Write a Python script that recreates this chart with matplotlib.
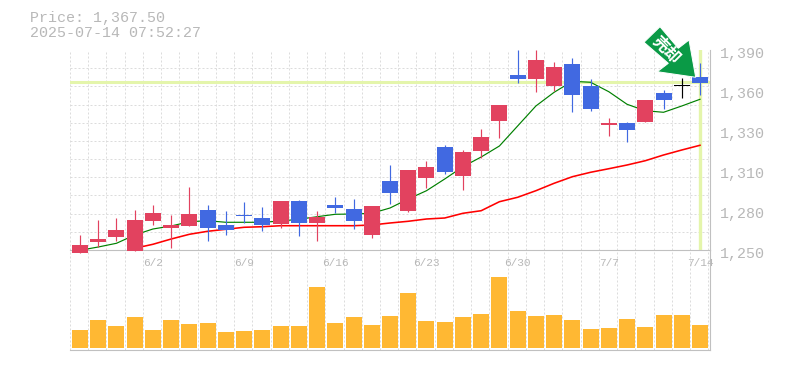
import matplotlib
matplotlib.use("Agg")
import matplotlib.pyplot as plt
import numpy as np
from matplotlib.patches import Polygon
from matplotlib.transforms import ScaledTranslation

plt.rcParams['lines.scale_dashes'] = False

header_price = "Price: 1,367.50"
header_time = "2025-07-14 07:52:27"
last_price = 1367.5
signal_label = "売却"

date_labels = ["6/2", "6/9", "6/16", "6/23", "6/30", "7/7", "7/14"]
date_index = [4, 9, 14, 19, 24, 29, 34]
price_ticks = [1250, 1278, 1306, 1334, 1362, 1390]
price_tick_labels = ["1,250", "1,280", "1,310", "1,330", "1,360", "1,390"]

body_top = [1253.5, 1257.7, 1264.0, 1271.0, 1275.9, 1267.5, 1275.2, 1278.0, 1267.5, 1274.5,
            1272.4, 1284.3, 1284.3, 1273.1, 1281.5, 1278.7, 1280.8, 1298.3, 1306.0, 1308.1,
            1322.1, 1318.6, 1329.1, 1351.5, 1372.5, 1383.0, 1378.1, 1380.2, 1364.8, 1338.9,
            1338.9, 1355.0, 1359.9, 1365.5, 1371.1]
body_bottom = [1248.1, 1255.6, 1259.1, 1249.5, 1270.3, 1265.4, 1266.8, 1265.4, 1264.0, 1273.8,
               1267.5, 1268.2, 1268.9, 1268.9, 1279.4, 1270.3, 1260.5, 1289.9, 1277.3, 1300.4,
               1304.6, 1301.8, 1319.3, 1340.3, 1369.7, 1369.7, 1364.8, 1358.5, 1348.7, 1337.5,
               1334.0, 1339.6, 1355.0, 1364.8, 1366.9]
high = [1260.5, 1271.0, 1272.4, 1278.0, 1281.5, 1274.5, 1294.1, 1281.5, 1277.3, 1283.6,
        1280.1, 1284.3, 1285.0, 1277.3, 1287.1, 1285.7, 1280.8, 1309.5, 1306.0, 1312.3,
        1323.5, 1320.0, 1334.7, 1351.5, 1390.0, 1390.0, 1381.6, 1384.4, 1369.7, 1342.4,
        1339.6, 1355.0, 1362.0, 1370.4, 1380.9]
low = [1248.1, 1251.9, 1256.5, 1249.5, 1267.3, 1251.4, 1266.8, 1256.5, 1260.5, 1268.9,
       1263.3, 1265.4, 1259.8, 1256.3, 1275.9, 1264.7, 1258.4, 1282.2, 1276.6, 1293.4,
       1303.2, 1292.0, 1314.4, 1328.4, 1366.9, 1360.6, 1361.3, 1346.6, 1347.3, 1329.8,
       1325.6, 1339.6, 1348.7, 1356.4, 1358.5]
direction = ["u", "u", "u", "u", "u", "u", "u", "d", "d", "d",
             "d", "u", "d", "u", "d", "d", "u", "d", "u", "u",
             "d", "u", "u", "u", "d", "u", "u", "d", "d", "u",
             "d", "u", "d", "n", "d"]

ma_short = [1249.8, 1252.1, 1254.7, 1260.5, 1264.7, 1266.8, 1269.8, 1270.5, 1269.4, 1269.4,
            1269.4, 1270.3, 1271.5, 1273.3, 1275.0, 1275.2, 1275.7, 1279.4, 1285.7, 1291.5,
            1299.7, 1308.3, 1315.1, 1322.8, 1336.8, 1350.8, 1360.4, 1368.1, 1367.4, 1360.8,
            1352.0, 1347.5, 1346.4, 1350.8, 1355.5]
ma_long = [1251.2, 1254.0, 1257.7, 1261.0, 1263.1, 1264.5, 1265.9, 1266.3, 1267.0, 1267.0,
           1267.0, 1267.0, 1267.0, 1267.5, 1268.9, 1270.1, 1271.7, 1272.4, 1275.7, 1277.5,
           1283.8, 1286.9, 1291.5, 1296.7, 1301.3, 1304.4, 1306.9, 1309.5, 1312.5, 1316.5,
           1320.0, 1323.3]
ma_long_start = 3

volume = [18, 28, 22, 31, 18, 28, 24, 25, 16, 17, 18, 22, 22, 61, 25, 31, 23, 32,
          55, 27, 26, 31, 34, 71, 37, 32, 33, 28, 19, 20, 29, 21, 33, 33, 23]

UP, DOWN, FLAT = "#e2425f", "#4169e1", "#000000"
COLORS = {"u": UP, "d": DOWN, "n": FLAT}
GREY = "#b8b8b8"
GRID = "#dcdcdc"
PALE = "#e4f5ab"
FONT = "Liberation Mono"
W, H = 785, 370
STEP = 18.235  # pixels per session

fig = plt.figure(figsize=(W / 100, H / 100), dpi=100, facecolor="white")
vax = fig.add_axes([70 / W, (H - 350) / H, 640 / W, 100 / H], zorder=1)
ax = fig.add_axes([70 / W, (H - 250) / H, 640 / W, 200 / H], zorder=2)
ax.patch.set_alpha(0)

n = len(volume)
x = np.arange(n)
XL = (-10 / STEP, -10 / STEP + 640 / STEP)
edges = XL[0] + np.arange(n + 1)
dash = (0, (1.44, 1.44))

for a in (ax, vax):
    a.set_xlim(*XL)
    a.set_xticks(edges, minor=True)
    a.grid(True, which="minor", axis="x", color=GRID, lw=0.72, ls=dash)
    a.set_axisbelow(True)
    for s in ("left", "top"):
        a.spines[s].set_visible(False)
    for s in ("right", "bottom"):
        a.spines[s].set_color("#c0c0c0")
        a.spines[s].set_linewidth(0.8)
    a.tick_params(which="both", length=0)

ax.set_ylim(1250, 1390)
ax.set_yticks(np.linspace(1250, 1390, 12), minor=True)
ax.grid(True, which="minor", axis="y", color=GRID, lw=0.72, ls=dash)

# price and last-session guides
ax.axhline(last_price, color=PALE, lw=2.2, zorder=1.5)
ax.axvline(x[-1], color=PALE, lw=2.4, zorder=1.5)

# moving averages
ax.plot(x, ma_short, color="#008000", lw=0.85, zorder=2)
ax.plot(x[ma_long_start:], ma_long, color="#ff0000", lw=1.15, zorder=2)

# candles
for i in range(n):
    c = COLORS[direction[i]]
    ax.vlines(x[i], low[i], high[i], color=c, lw=0.85, zorder=3, clip_on=False)
    ax.bar(x[i], body_top[i] - body_bottom[i], bottom=body_bottom[i], width=16 / STEP,
           color=c, linewidth=0, zorder=3.1, clip_on=False)

# volume
vax.bar(x, volume, width=16 / STEP, color="#ffb833", linewidth=0, zorder=3)
vax.set_ylim(-2, 98)
vax.set_yticks([])
vax.set_xticks([])

# y labels
ax.yaxis.tick_right()
ax.set_yticks(price_ticks)
ax.set_yticklabels(price_tick_labels, family=FONT, fontsize=10.8, color=GREY)
ax.tick_params(axis="y", which="major", pad=7)
shift = ScaledTranslation(0, -0.022, fig.dpi_scale_trans)
for lab in ax.get_yticklabels():
    lab.set_transform(lab.get_transform() + shift)

# date labels
ax.set_xticks(date_index)
ax.set_xticklabels(date_labels, family=FONT, fontsize=8, color=GREY)
ax.tick_params(axis="x", which="major", pad=5.5)

fig.text(30 / W, 1 - 18 / H, header_price, family=FONT, fontsize=10.8, color=GREY, va="center")
fig.text(30 / W, 1 - 33 / H, header_time, family=FONT, fontsize=10.8, color=GREY, va="center")

# sell marker
arrow_px = [(660, 26.7), (644, 42.3), (668.3, 63.3), (657.3, 71.7),
            (695.7, 77.3), (689, 40), (678.3, 48.3)]
fig.add_artist(Polygon([(px / W, 1 - py / H) for px, py in arrow_px], closed=True,
                       transform=fig.transFigure, facecolor="#0a9a46",
                       edgecolor="white", lw=0.7, zorder=10))
fig.text(666.5 / W, 1 - 49.5 / H, signal_label, family=["Noto Sans CJK JP", "DejaVu Sans"],
         fontsize=11.5, fontweight="bold", color="white", rotation=-45,
         ha="center", va="center", rotation_mode="anchor", zorder=11)

fig.savefig("out.png", dpi=100, facecolor="white")
